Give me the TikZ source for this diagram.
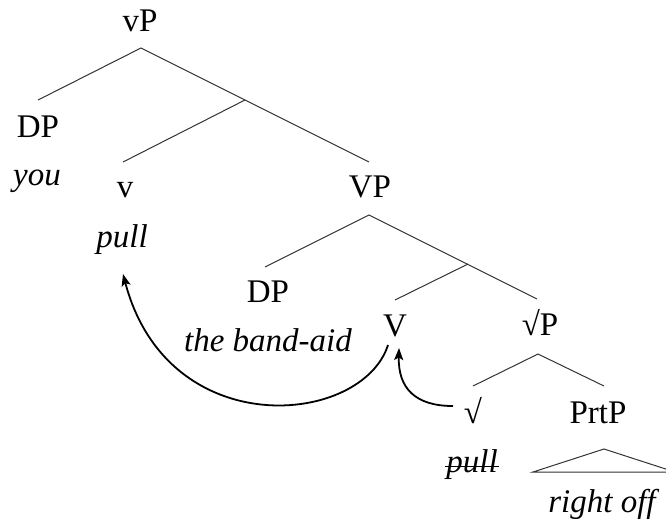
\documentclass[tikz,border=0pt]{standalone}
\usepackage{fontspec}
\setmainfont{Liberation Serif}
\usetikzlibrary{arrows.meta}
\begin{document}
\begin{tikzpicture}[x=1pt,y=-1pt,
  lbl/.style={anchor=base,inner sep=0pt,font=\fontsize{33}{39}\selectfont},
  word/.style={anchor=base,inner sep=0pt,font=\fontsize{33}{39}\selectfont\itshape},
  branch/.style={line width=1pt,draw=black!80},
  move/.style={line width=1.8pt,-{Stealth[length=12pt,width=9pt,inset=2.5pt]}}]
\useasboundingbox (0,0) rectangle (666,523);

% labels and words
\node[lbl]  (vP)       at (140,31)  {vP};
\node[lbl]  (DPa)      at (38,137)  {DP};
\node[word] (you)      at (37,185)  {you};
\node[lbl]  (v)        at (125,197) {v};
\node[word] (pullv)    at (122,247) {pull};
\node[lbl]  (VP)       at (370,197) {VP};
\node[lbl]  (DPb)      at (268,302) {DP};
\node[word] (bandaid)  at (268,351) {the band-aid};
\node[lbl]  (V)        at (395,336) {V};
\node[lbl]  (rootP)    at (540,335) {√P};
\node[lbl]  (root)     at (473,423) {√};
\node[lbl]  (PrtP)     at (598,423) {PrtP};
\node[word] (pullr)    at (472,472) {pull};
\node[word] (rightoff) at (602,512) {right off};

% branch points
\coordinate (vPtop)   at (141,48);
\coordinate (DPaend)  at (38,100);
\coordinate (vbar)    at (245,100);
\coordinate (VPend)   at (369,162);
\coordinate (vend)    at (123,162);
\coordinate (VPtop)   at (369,215);
\coordinate (DPbend)  at (265,267);
\coordinate (Vbar)    at (468,264);
\coordinate (rootPend) at (537,299);
\coordinate (Vend)    at (395,300);
\coordinate (rootPtop) at (538,354);
\coordinate (rootend) at (473,386);
\coordinate (PrtPend) at (604,386);
\coordinate (triTop)  at (604,449);
\coordinate (triL)    at (533,472);
\coordinate (triR)    at (675,472);

% tree
\draw[branch] (DPaend) -- (vPtop) -- (VPend);
\draw[branch] (vbar) -- (vend);
\draw[branch] (DPbend) -- (VPtop) -- (rootPend);
\draw[branch] (Vbar) -- (Vend);
\draw[branch] (rootend) -- (rootPtop) -- (PrtPend);
\draw[branch] (triL) -- (triTop) -- (triR) -- cycle;

% struck-out copy
\draw[line width=1pt] ([xshift=-1pt,yshift=6pt]pullr.base west) -- ([xshift=1pt,yshift=6pt]pullr.base east);

% head movement
\coordinate (m1s) at (388,345);
\coordinate (m1e) at (123,274);
\draw[move] (m1s) .. controls (362,426) and (168,444) .. (m1e);
\coordinate (m2s) at (453,406);
\coordinate (m2e) at (399,348);
\draw[move] (m2s) .. controls (415,406) and (398,388) .. (m2e);
\end{tikzpicture}
\end{document}
